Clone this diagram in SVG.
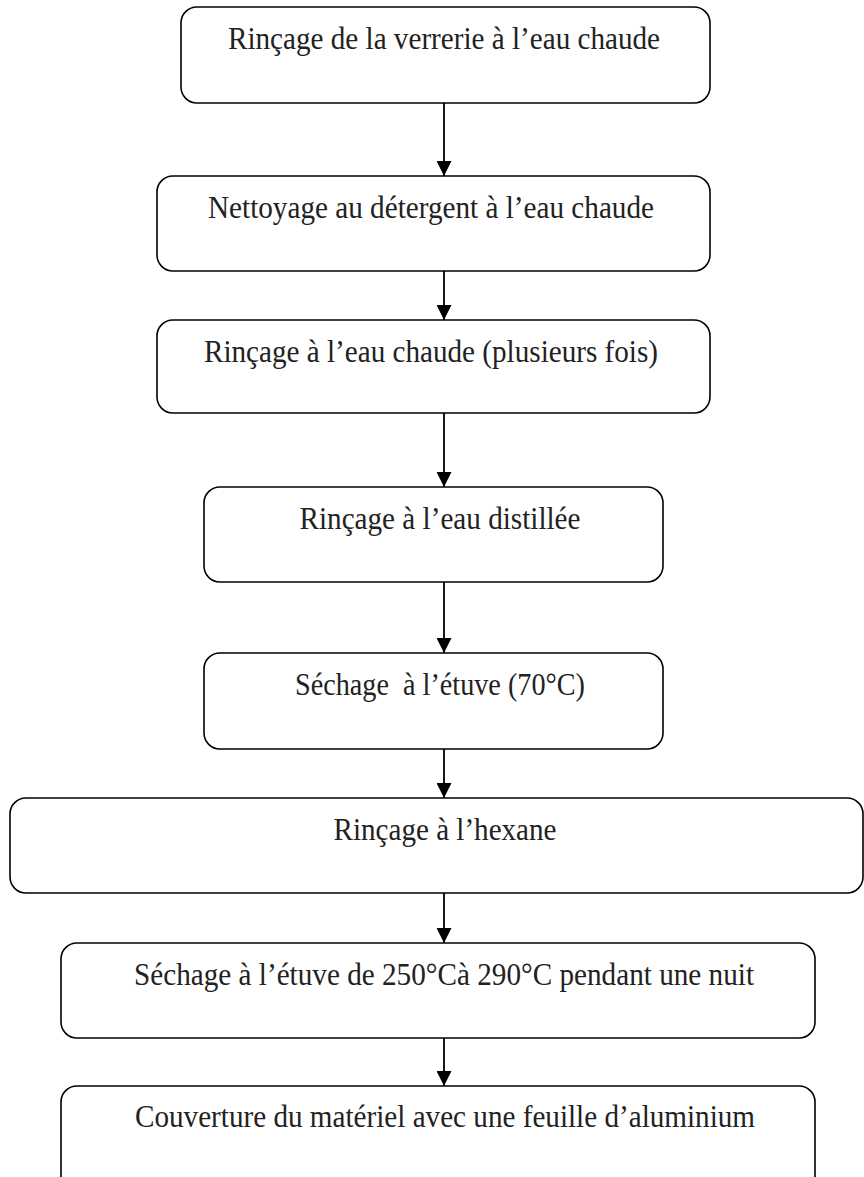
<svg xmlns="http://www.w3.org/2000/svg" width="864" height="1177" viewBox="0 0 864 1177">
<style>
.box{fill:#fff;stroke:#000;stroke-width:1.6}
.t{font-family:"Liberation Serif","Times New Roman",serif;font-size:32px;fill:#222;text-anchor:middle}
.c{stroke:#000;stroke-width:1.8;fill:none}
</style>
<defs>
<marker id="ah" markerWidth="15" markerHeight="15" refX="15" refY="7.5" orient="auto" markerUnits="userSpaceOnUse" viewBox="0 0 15 15">
<path d="M0,0 L15,7.5 L0,15 Z" fill="#000"/>
</marker>
</defs>
<rect width="864" height="1177" fill="#fff"/>
<g id="connectors">
<line class="c" x1="444" y1="103" x2="444" y2="176" marker-end="url(#ah)"/>
<line class="c" x1="444" y1="271" x2="444" y2="320" marker-end="url(#ah)"/>
<line class="c" x1="444" y1="413" x2="444" y2="487" marker-end="url(#ah)"/>
<line class="c" x1="444" y1="582" x2="444" y2="653" marker-end="url(#ah)"/>
<line class="c" x1="444" y1="749" x2="444" y2="798" marker-end="url(#ah)"/>
<line class="c" x1="444" y1="893" x2="444" y2="943" marker-end="url(#ah)"/>
<line class="c" x1="444" y1="1038" x2="444" y2="1086" marker-end="url(#ah)"/>
</g>
<g id="n1"><rect class="box" x="181" y="7" width="529" height="96" rx="16"/><text class="t" x="444" y="49" textLength="432" lengthAdjust="spacingAndGlyphs">Rinçage de la verrerie à l’eau chaude</text></g>
<g id="n2"><rect class="box" x="157" y="176" width="553" height="95" rx="16"/><text class="t" x="431" y="218" textLength="446" lengthAdjust="spacingAndGlyphs">Nettoyage au détergent à l’eau chaude</text></g>
<g id="n3"><rect class="box" x="157" y="320" width="553" height="93" rx="16"/><text class="t" x="431" y="362" textLength="454" lengthAdjust="spacingAndGlyphs">Rinçage à l’eau chaude (plusieurs fois)</text></g>
<g id="n4"><rect class="box" x="204" y="487" width="459" height="95" rx="16"/><text class="t" x="440" y="529" textLength="281" lengthAdjust="spacingAndGlyphs">Rinçage à l’eau distillée</text></g>
<g id="n5"><rect class="box" x="204" y="653" width="459" height="96" rx="16"/><text class="t" x="440" y="695" textLength="290" lengthAdjust="spacingAndGlyphs" xml:space="preserve">Séchage  à l’étuve (70°C)</text></g>
<g id="n6"><rect class="box" x="10" y="798" width="853" height="95" rx="16"/><text class="t" x="445" y="840" textLength="223" lengthAdjust="spacingAndGlyphs">Rinçage à l’hexane</text></g>
<g id="n7"><rect class="box" x="61" y="943" width="754" height="95" rx="16"/><text class="t" x="444" y="985" textLength="620" lengthAdjust="spacingAndGlyphs">Séchage à l’étuve de 250°Cà 290°C pendant une nuit</text></g>
<g id="n8"><rect class="box" x="61" y="1086" width="754" height="120" rx="16"/><text class="t" x="445" y="1127" textLength="620" lengthAdjust="spacingAndGlyphs">Couverture du matériel avec une feuille d’aluminium</text></g>
</svg>
